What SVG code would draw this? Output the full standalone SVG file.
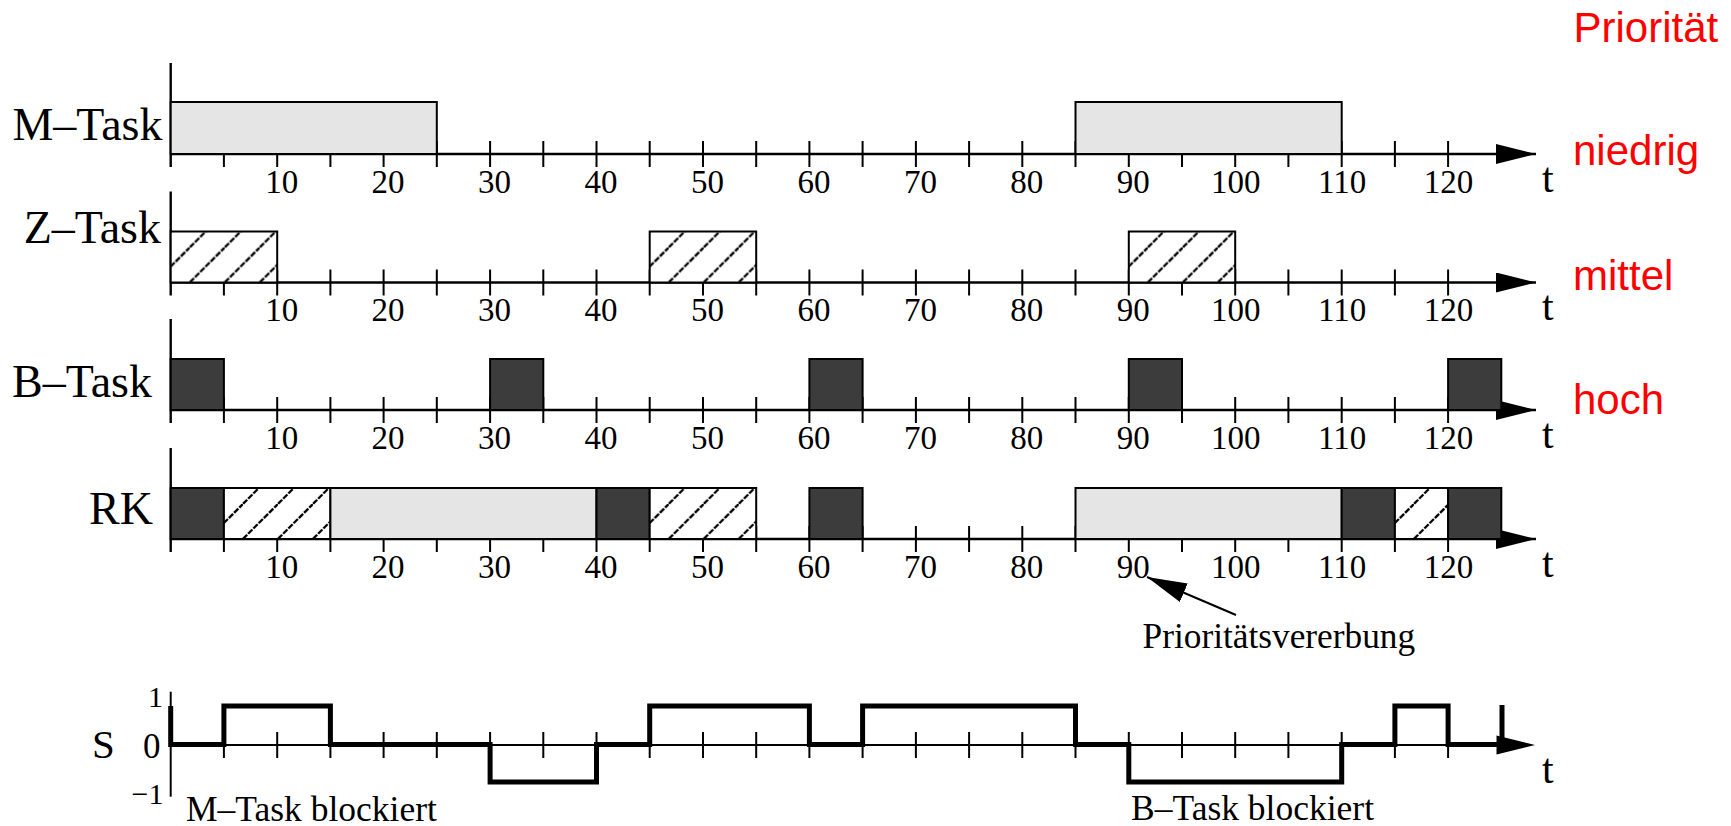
<svg xmlns="http://www.w3.org/2000/svg" xmlns:xlink="http://www.w3.org/1999/xlink" width="1731" height="826" viewBox="0 0 1731 826">
  <style>
    .lbl { font-family: "Liberation Serif", "Times New Roman", serif; fill: #000; }
    .big { font-size: 46px; text-anchor: end; }
    .num { font-size: 33px; text-anchor: middle; }
    .note { font-size: 35.5px; }
    .prio { font-family: "Liberation Sans", Arial, sans-serif; font-size: 42px; fill: #ff0000; }
    .axis { stroke: #000; stroke-width: 2.4; fill: none; }
    .tick { stroke: #000; stroke-width: 2; fill: none; }
    .bar { stroke: #000; stroke-width: 2; }
    .m { fill: #e5e5e5; }
    .b { fill: #3c3c3c; }
    .sig { stroke: #000; stroke-width: 5; fill: none; stroke-linejoin: miter; }
  </style>
  <defs>
    <marker id="axhead" markerUnits="userSpaceOnUse" markerWidth="40" markerHeight="20" refX="40" refY="10" orient="auto" viewBox="0 0 40 20">
      <path d="M0,0 L40,10 L0,20 Z" fill="#000"/>
    </marker>
    <marker id="noteHead" markerUnits="userSpaceOnUse" markerWidth="40" markerHeight="20" refX="40" refY="10" orient="auto" viewBox="0 0 40 20">
      <path d="M0,0 L40,10 L0,20 Z" fill="#000"/>
    </marker>
    <!-- diagonal hatch used for the Z-Task slots -->
    <pattern id="hatch" patternUnits="userSpaceOnUse" width="35" height="35">
      <rect width="35" height="35" fill="#fff"/>
      <path d="M0,35 L35,0 M-5,5 L5,-5 M30,40 L40,30" stroke="#000" stroke-width="2.3" stroke-dasharray="6 1.4"/>
    </pattern>
    <pattern id="hz1" xlink:href="#hatch" x="189.7" y="282.5"/>
    <pattern id="hz2" xlink:href="#hatch" x="668.7" y="282.5"/>
    <pattern id="hz3" xlink:href="#hatch" x="1147.8" y="282.5"/>
    <pattern id="hr1" xlink:href="#hatch" x="242.9" y="539"/>
    <pattern id="hr2" xlink:href="#hatch" x="668.7" y="539"/>
    <pattern id="hr3" xlink:href="#hatch" x="1413.9" y="539"/>

    <!-- tick marks every 5 time units, relative to the axis line -->
    <path id="ticks" class="tick" d="M223.9,-13v26 M277.2,-13v26 M330.4,-13v26 M383.6,-13v26 M436.8,-13v26 M490.1,-13v26 M543.3,-13v26 M596.5,-13v26 M649.7,-13v26 M703,-13v26 M756.2,-13v26 M809.4,-13v26 M862.6,-13v26 M915.9,-13v26 M969.1,-13v26 M1022.3,-13v26 M1075.5,-13v26 M1128.8,-13v26 M1182,-13v26 M1235.2,-13v26 M1288.4,-13v26 M1341.7,-13v26 M1394.9,-13v26 M1448.1,-13v26"/>

    <!-- one time line: y axis, t axis with arrow, ticks and labels -->
    <g id="timeline">
      <path class="axis" d="M170.7,-91 V13"/>
      <path class="axis" d="M170.7,0 H1536" marker-end="url(#axhead)"/>
      <use xlink:href="#ticks"/>
      <g class="lbl num">
        <text x="281.7" y="38.5">10</text>
        <text x="388.1" y="38.5">20</text>
        <text x="494.6" y="38.5">30</text>
        <text x="601" y="38.5">40</text>
        <text x="707.5" y="38.5">50</text>
        <text x="813.9" y="38.5">60</text>
        <text x="920.4" y="38.5">70</text>
        <text x="1026.8" y="38.5">80</text>
        <text x="1133.3" y="38.5">90</text>
        <text x="1235.7" y="38.5">100</text>
        <text x="1342.2" y="38.5">110</text>
        <text x="1448.6" y="38.5">120</text>
      </g>
      <text class="lbl" x="1542" y="37.5" font-size="42">t</text>
    </g>
  </defs>

  <rect width="1731" height="826" fill="#fff"/>

  <!-- priority legend -->
  <g id="priority">
    <text class="prio" x="1573.5" y="41.5">Priorität</text>
    <text class="prio" x="1573" y="165">niedrig</text>
    <text class="prio" x="1573" y="290">mittel</text>
    <text class="prio" x="1573" y="414">hoch</text>
  </g>

  <!-- M-Task -->
  <g id="m-task">
    <use xlink:href="#timeline" y="154"/>
    <rect class="bar m" x="170.7" y="102" width="266.1" height="52"/>
    <rect class="bar m" x="1075.5" y="102" width="266.2" height="52"/>
    <text class="lbl big" x="162.5" y="140">M–Task</text>
  </g>

  <!-- Z-Task -->
  <g id="z-task">
    <use xlink:href="#timeline" y="282.5"/>
    <rect class="bar" fill="url(#hz1)" x="170.7" y="231.5" width="106.5" height="51"/>
    <rect class="bar" fill="url(#hz2)" x="649.7" y="231.5" width="106.5" height="51"/>
    <rect class="bar" fill="url(#hz3)" x="1128.8" y="231.5" width="106.4" height="51"/>
    <text class="lbl big" x="161" y="243">Z–Task</text>
  </g>

  <!-- B-Task -->
  <g id="b-task">
    <use xlink:href="#timeline" y="410"/>
    <rect class="bar b" x="170.7" y="359" width="53.2" height="51"/>
    <rect class="bar b" x="490.1" y="359" width="53.2" height="51"/>
    <rect class="bar b" x="809.4" y="359" width="53.2" height="51"/>
    <rect class="bar b" x="1128.8" y="359" width="53.2" height="51"/>
    <rect class="bar b" x="1448.1" y="359" width="53.2" height="51"/>
    <text class="lbl big" x="152" y="397">B–Task</text>
  </g>

  <!-- RK: resulting processor allocation -->
  <g id="rk">
    <use xlink:href="#timeline" y="539"/>
    <rect class="bar b" x="170.7" y="488" width="53.2" height="51"/>
    <rect class="bar" fill="url(#hr1)" x="223.9" y="488" width="106.5" height="51"/>
    <rect class="bar m" x="330.4" y="488" width="266.1" height="51"/>
    <rect class="bar b" x="596.5" y="488" width="53.2" height="51"/>
    <rect class="bar" fill="url(#hr2)" x="649.7" y="488" width="106.5" height="51"/>
    <rect class="bar b" x="809.4" y="488" width="53.2" height="51"/>
    <rect class="bar m" x="1075.5" y="488" width="266.2" height="51"/>
    <rect class="bar b" x="1341.7" y="488" width="53.2" height="51"/>
    <rect class="bar" fill="url(#hr3)" x="1394.9" y="488" width="53.2" height="51"/>
    <rect class="bar b" x="1448.1" y="488" width="53.2" height="51"/>
    <text class="lbl big" x="153" y="524" font-size="44">RK</text>
  </g>

  <!-- annotation -->
  <g id="vererbung">
    <text class="lbl" x="1142.6" y="648.3" font-size="35.3">Prioritätsvererbung</text>
  </g>

  <!-- S: semaphore state -->
  <g id="s-signal">
    <path class="tick" d="M170.7,691.7 V796.7"/>
    <path class="tick" d="M170.7,745 H1500"/>
    <use xlink:href="#ticks" y="745"/>
    <path class="sig" d="M170.7,706 V744.5 H223.9 V706 H330.4 V744.5 H490.1 V782 H596.5 V744.5 H649.7 V706 H809.4 V744.5 H862.6 V706 H1075.5 V744.5 H1128.8 V782 H1341.7 V744.5 H1394.9 V706 H1448.1 V744.5 H1500"/>
    <path class="sig" d="M1502,705 V746"/>
    <path d="M1496.5,735.5 L1535,745 L1496.5,754.5 Z" fill="#000"/>
    <text class="lbl" x="1542" y="783" font-size="42">t</text>
    <text class="lbl" x="92" y="758" font-size="41">S</text>
    <text class="lbl" x="143" y="757.5" font-size="35">0</text>
    <text class="lbl" x="148" y="707" font-size="30">1</text>
    <text class="lbl" x="131.5" y="804" font-size="30">−1</text>
    <text class="lbl note" x="186" y="820.5">M–Task blockiert</text>
    <text class="lbl note" x="1131" y="820">B–Task blockiert</text>
  </g>

  <!-- connectors -->
  <g id="connectors">
    <path d="M1236,615 L1147,577" stroke="#000" stroke-width="2" fill="none" marker-end="url(#noteHead)"/>
  </g>
</svg>
